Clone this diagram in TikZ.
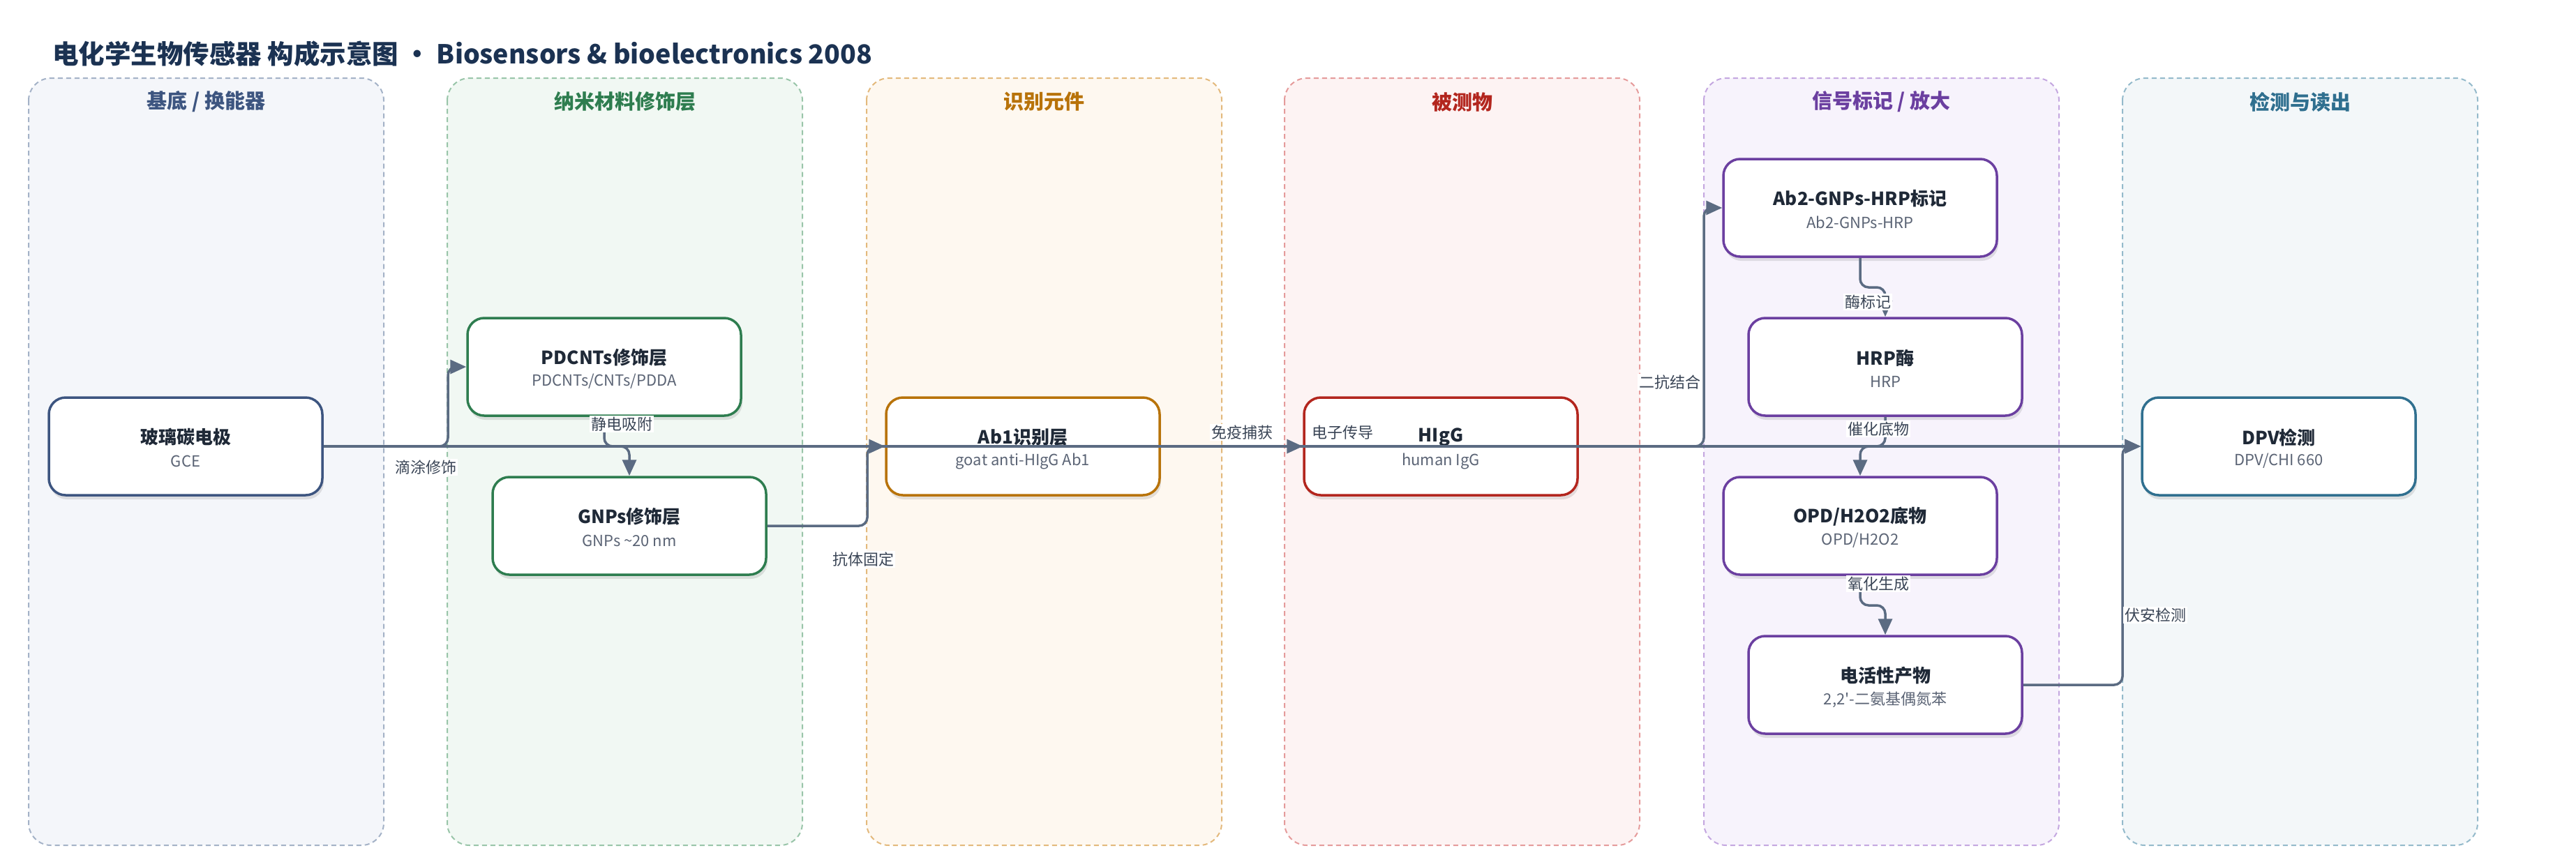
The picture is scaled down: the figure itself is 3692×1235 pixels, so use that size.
\documentclass[tikz,border=0pt]{standalone}
\usepackage{fontspec}
\setmainfont{Noto Sans CJK SC}[Ligatures=TeXOff]
\usetikzlibrary{arrows.meta,shadows}
\definecolor{l1f}{HTML}{F4F6FA}\definecolor{l1d}{HTML}{A4B2C7}\definecolor{c1}{HTML}{3D5580}
\definecolor{l2f}{HTML}{F1F8F3}\definecolor{l2d}{HTML}{99C5A9}\definecolor{c2}{HTML}{2E7D4F}
\definecolor{l3f}{HTML}{FEF8F0}\definecolor{l3d}{HTML}{E3B97C}\definecolor{c3}{HTML}{B8730A}
\definecolor{l4f}{HTML}{FDF3F3}\definecolor{l4d}{HTML}{E59B9B}\definecolor{c4}{HTML}{B3261E}
\definecolor{l5f}{HTML}{F7F3FC}\definecolor{l5d}{HTML}{C4A7E0}\definecolor{c5}{HTML}{6B3FA0}
\definecolor{l6f}{HTML}{F3F7F9}\definecolor{l6d}{HTML}{94BACB}\definecolor{c6}{HTML}{2F6F8F}
\definecolor{edgec}{HTML}{5B6B82}
\definecolor{titlec}{HTML}{1B3252}
\definecolor{ink}{HTML}{1F2937}
\definecolor{subc}{HTML}{5B6475}
\definecolor{lblc}{HTML}{3A4556}
\newcommand\pnode[6]{%
  \node[box,draw=#4] (#1) at (#2,#3) {};
  \node[ttl] (#1-t) at (#2,#3-13) {#5};
  \node[sub] (#1-s) at (#2,#3+21) {#6};}
\begin{document}
\begin{tikzpicture}[x=1pt,y=-1pt,
  lanebox/.style={rounded corners=32pt, dash pattern=on 7pt off 5pt, line width=2pt},
  lanet/.style={font=\fontsize{29}{32}\selectfont\bfseries},
  box/.style={fill=white, rounded corners=24pt, line width=3.5pt, minimum width=392pt,
    minimum height=140pt, inner sep=0pt,
    drop shadow={shadow xshift=2pt, shadow yshift=-6pt, opacity=0.10, fill=black}},
  ttl/.style={font=\fontsize{26}{30}\selectfont\bfseries, text=ink, inner sep=0pt},
  sub/.style={font=\fontsize{22}{26}\selectfont, text=subc, inner sep=0pt},
  lbl/.style={font=\fontsize{22}{26}\selectfont, text=lblc, fill=white, inner sep=2pt},
  edge/.style={draw=edgec, line width=3.5pt, rounded corners=12pt,
    -{Triangle[length=23pt,width=20pt]}}]
\useasboundingbox (0,0) rectangle (3692,1235);
% title
\node[anchor=west, font=\fontsize{37.5}{40}\selectfont\bfseries, text=titlec, inner sep=0pt] (title) at (75,77)
  {电化学生物传感器 构成示意图 · Biosensors \& bioelectronics 2008};
% lanes
\draw[lanebox, fill=l1f, draw=l1d] (41,112) rectangle (550,1212);
\draw[lanebox, fill=l2f, draw=l2d] (641,112) rectangle (1150,1212);
\draw[lanebox, fill=l3f, draw=l3d] (1242,112) rectangle (1751,1212);
\draw[lanebox, fill=l4f, draw=l4d] (1841,112) rectangle (2350,1212);
\draw[lanebox, fill=l5f, draw=l5d] (2442,112) rectangle (2951,1212);
\draw[lanebox, fill=l6f, draw=l6d] (3042,112) rectangle (3551,1212);
\node[lanet, text=c1] (t1) at (295.5,146) {基底 / 换能器};
\node[lanet, text=c2] (t2) at (895.5,146) {纳米材料修饰层};
\node[lanet, text=c3] (t3) at (1496.5,146) {识别元件};
\node[lanet, text=c4] (t4) at (2095.5,146) {被测物};
\node[lanet, text=c5] (t5) at (2696.5,146) {信号标记 / 放大};
\node[lanet, text=c6] (t6) at (3296.5,146) {检测与读出};
% nodes
\pnode{gce}{266}{640}{c1}{玻璃碳电极}{GCE}
\pnode{pdc}{866}{526}{c2}{PDCNTs修饰层}{PDCNTs/CNTs/PDDA}
\pnode{gnp}{902}{754}{c2}{GNPs修饰层}{GNPs \textasciitilde20 nm}
\pnode{ab1}{1466}{640}{c3}{Ab1识别层}{goat anti-HIgG Ab1}
\pnode{hig}{2065}{640}{c4}{HIgG}{human IgG}
\pnode{ab2}{2666}{298}{c5}{Ab2-GNPs-HRP标记}{Ab2-GNPs-HRP}
\pnode{hrp}{2702}{526}{c5}{HRP酶}{HRP}
\pnode{opd}{2666}{754}{c5}{OPD/H2O2底物}{OPD/H2O2}
\pnode{eap}{2702}{982}{c5}{电活性产物}{2,2'-二氨基偶氮苯}
\pnode{dpv}{3266}{640}{c6}{DPV检测}{DPV/CHI 660}
% bend points
\coordinate (b1) at (642,526);
\coordinate (b2) at (1243,640);
\coordinate (b3) at (2442,298);
\coordinate (b4) at (3042,640);
\coordinate (m1) at (866,640);
\coordinate (m2) at (2666,412);
\coordinate (m3) at (2702,640);
\coordinate (m4) at (2666,868);
% edges
\draw[edge] (gce.east) -- (dpv.west);
\draw[edge] (gce.east) -| (b1) -- (pdc.west);
\draw[edge] (pdc.south) -- (m1) -| (gnp.north);
\draw[edge] (gnp.east) -| (b2) -- (ab1.west);
\draw[edge] (ab1.east) -- (hig.west);
\draw[edge] (hig.east) -| (b3) -- (ab2.west);
\draw[edge] (ab2.south) -- (m2) -| (hrp.north);
\draw[edge] (hrp.south) -- (m3) -| (opd.north);
\draw[edge] (opd.south) -- (m4) -| (eap.north);
\draw[edge] (eap.east) -| (b4) -- (dpv.west);
% labels
\node[lbl] (l1) at (610,670) {滴涂修饰};
\node[lbl] (l2) at (891,608) {静电吸附};
\node[lbl] (l3) at (1237,802) {抗体固定};
\node[lbl] (l4) at (1780,620) {免疫捕获};
\node[lbl, fill=none] (l5) at (1924,620) {电子传导};
\node[lbl] (l6) at (2393,548) {二抗结合};
\node[lbl] (l7) at (2677,433) {酶标记};
\node[lbl] (l8) at (2692,615) {催化底物};
\node[lbl] (l9) at (2692,837) {氧化生成};
\node[lbl] (l10) at (3089,882) {伏安检测};
\end{tikzpicture}
\end{document}
